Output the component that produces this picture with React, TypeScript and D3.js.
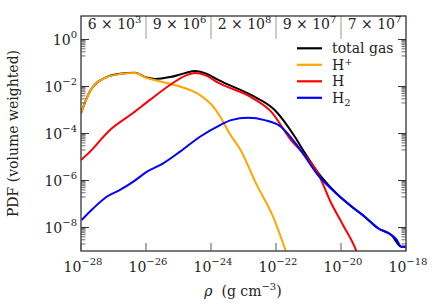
import React from "react";
import * as d3 from "d3";

// log10 values
const totalRho = [-28, -27.72, -27.23, -26.8, -26.34, -25.98, -25.72, -25.26, -24.8, -24.49, -24.12, -23.78, -22.77, -22.04, -21.42, -21.17, -20.61, -20.09, -19.68, -19.27, -18.86, -18.45, -18.14, -18.0];
const totalPdf = [-3.14, -2.19, -1.61, -1.46, -1.42, -1.62, -1.68, -1.6, -1.43, -1.34, -1.47, -1.72, -2.36, -3.0, -4.14, -4.7, -5.84, -6.62, -7.1, -7.54, -8.03, -8.32, -8.82, -8.82];

const hpRho = [-28, -27.72, -27.23, -26.8, -26.34, -25.98, -25.58, -24.95, -24.34, -23.93, -23.72, -23.42, -23.09, -22.62, -22.09, -21.7, -21.6];
const hpPdf = [-3.14, -2.19, -1.61, -1.47, -1.43, -1.64, -1.78, -2.0, -2.36, -2.86, -3.28, -4.02, -4.7, -6.11, -7.54, -9.0, -9.4];

const hRho = [-28, -27.72, -27.11, -26.4, -25.88, -25.17, -24.8, -24.49, -24.18, -23.78, -22.76, -22.15, -21.54, -21.17, -20.71, -20.3, -19.94, -19.53, -19.45];
const hPdf = [-5.13, -4.77, -3.85, -3.13, -2.57, -1.85, -1.55, -1.43, -1.51, -1.84, -2.46, -3.07, -4.28, -4.84, -5.69, -6.97, -7.89, -8.99, -9.3];

const h2Rho = [-27.98, -27.62, -27.21, -26.8, -26.39, -25.98, -25.47, -24.95, -24.34, -23.72, -23.38, -22.86, -22.35, -21.85, -21.32, -20.71, -20.09, -19.68, -19.27, -18.86, -18.45, -18.3, -18.14, -18.0];
const h2Pdf = [-7.68, -7.18, -6.69, -6.4, -6.05, -5.63, -5.27, -4.77, -4.14, -3.64, -3.43, -3.33, -3.43, -3.71, -4.56, -5.77, -6.62, -7.11, -7.54, -8.03, -8.32, -8.5, -8.82, -8.82];

const headerMantissa = ["6", "9", "2", "9", "7"];
const headerExp = ["3", "6", "8", "7", "7"];

const xTickExp = [-28, -26, -24, -22, -20, -18];
const yTickExp = [0, -2, -4, -6, -8];

const seriesNames = ["total gas", "H", "H", "H"];
const seriesSup = ["", "+", "", ""];
const seriesSub = ["", "", "", "2"];
const seriesColors = ["#000000", "#FFA500", "#FF0000", "#0000FF"];

const W = 436, H = 305;
const M = { left: 81, right: 406, top: 16, bottom: 251 };
const FONT = "'DejaVu Serif', 'Liberation Serif', serif";
const FS = 14;
const SFS = 10;

export default function App() {
  const x = d3.scaleLog().domain([1e-28, 1e-18]).range([M.left, M.right]);
  const y = d3.scaleLog().domain([1e-9, 1e1]).range([M.bottom, M.top]);
  const line = d3
    .line<[number, number]>()
    .x((d) => x(Math.pow(10, d[0])))
    .y((d) => y(Math.pow(10, d[1])))
    .curve(d3.curveMonotoneX);

  const series = [
    { rho: totalRho, pdf: totalPdf },
    { rho: hpRho, pdf: hpPdf },
    { rho: hRho, pdf: hPdf },
    { rho: h2Rho, pdf: h2Pdf },
  ];

  const minorY: number[] = [];
  for (let k = -9; k <= 1; k += 2) {
    for (let m = 2; m <= 9; m++) {
      const v = m * Math.pow(10, k);
      if (v > 1e-9 && v < 1e1) minorY.push(v);
    }
  }

  const cellEdges = d3.range(0, 6).map((i) => -28 + 2 * i);

  return (
    <svg width={W} height={H} style={{ position: "absolute", left: 0, top: 0 }} fontFamily={FONT}>
      <rect width={W} height={H} fill="#fff" />
      <defs>
        <clipPath id="plotclip">
          <rect x={M.left} y={M.top} width={M.right - M.left} height={M.bottom - M.top} />
        </clipPath>
      </defs>
      <g clipPath="url(#plotclip)">
        {series.map((s, i) => (
          <path
            key={i}
            d={line(s.rho.map((r, j) => [r, s.pdf[j]] as [number, number])) || ""}
            fill="none"
            stroke={seriesColors[i]}
            strokeWidth={2}
            strokeLinejoin="round"
          />
        ))}
      </g>
      {/* header separators */}
      {cellEdges.slice(1, 5).map((e) => (
        <line key={e} x1={x(Math.pow(10, e))} x2={x(Math.pow(10, e))} y1={M.top} y2={39} stroke="#bbbbbb" strokeWidth={1.5} />
      ))}
      {headerMantissa.map((mnt, i) => {
        const cx = (x(Math.pow(10, cellEdges[i])) + x(Math.pow(10, cellEdges[i + 1]))) / 2;
        return (
          <text key={i} x={cx + 1} y={29} fontSize={FS} textAnchor="middle" fill="#222">
            {mnt} × 10
            <tspan dy={-6} fontSize={SFS}>{headerExp[i]}</tspan>
          </text>
        );
      })}
      {/* frame */}
      <rect x={M.left} y={M.top} width={M.right - M.left} height={M.bottom - M.top} fill="none" stroke="#222" strokeWidth={1.2} />
      {/* y ticks */}
      {yTickExp.map((e) => {
        const yy = y(Math.pow(10, e));
        return (
          <g key={e}>
            <line x1={M.left} x2={M.left + 8} y1={yy} y2={yy} stroke="#333" strokeWidth={1} />
            <line x1={M.right} x2={M.right - 8} y1={yy} y2={yy} stroke="#333" strokeWidth={1} />
            <text x={77} y={yy + 5} fontSize={FS} textAnchor="end" fill="#222">
              10
              <tspan dy={-7} fontSize={SFS}>{e === 0 ? "0" : "−" + Math.abs(e)}</tspan>
            </text>
          </g>
        );
      })}
      {minorY.map((v, i) => {
        const yy = y(v);
        return (
          <g key={i}>
            <line x1={M.left} x2={M.left + 4.5} y1={yy} y2={yy} stroke="#444" strokeWidth={0.8} />
            <line x1={M.right} x2={M.right - 4.5} y1={yy} y2={yy} stroke="#444" strokeWidth={0.8} />
          </g>
        );
      })}
      {/* x ticks */}
      {xTickExp.map((e) => {
        const xx = x(Math.pow(10, e));
        return (
          <g key={e}>
            <line x1={xx} x2={xx} y1={M.bottom} y2={M.bottom - 8} stroke="#555" strokeWidth={1} />
            <text x={xx + 2} y={272} fontSize={FS} textAnchor="middle" fill="#222">
              10
              <tspan dy={-7} fontSize={SFS}>{"−" + Math.abs(e)}</tspan>
            </text>
          </g>
        );
      })}
      {/* legend */}
      {seriesNames.map((n, i) => {
        const yy = 48.3 + i * 16.5;
        return (
          <g key={i}>
            <line x1={297} x2={322} y1={yy} y2={yy} stroke={seriesColors[i]} strokeWidth={2.2} />
            <text x={332} y={yy + 5} fontSize={FS} fill="#222">
              {n}
              {seriesSup[i] && <tspan dy={-5} fontSize={SFS}>{seriesSup[i]}</tspan>}
              {seriesSub[i] && <tspan dy={3} fontSize={SFS}>{seriesSub[i]}</tspan>}
            </text>
          </g>
        );
      })}
      {/* axis labels */}
      <text x={243} y={296} fontSize={FS} textAnchor="middle" fill="#222">
        <tspan fontStyle="italic">ρ</tspan>
        <tspan>{"\u00a0\u00a0(g cm"}</tspan>
        <tspan dy={-6} fontSize={SFS}>−3</tspan>
        <tspan dy={6}>)</tspan>
      </text>
      <text transform={`translate(18, ${(M.top + M.bottom) / 2}) rotate(-90)`} fontSize={FS} textAnchor="middle" fill="#222">
        PDF (volume weighted)
      </text>
    </svg>
  );
}
